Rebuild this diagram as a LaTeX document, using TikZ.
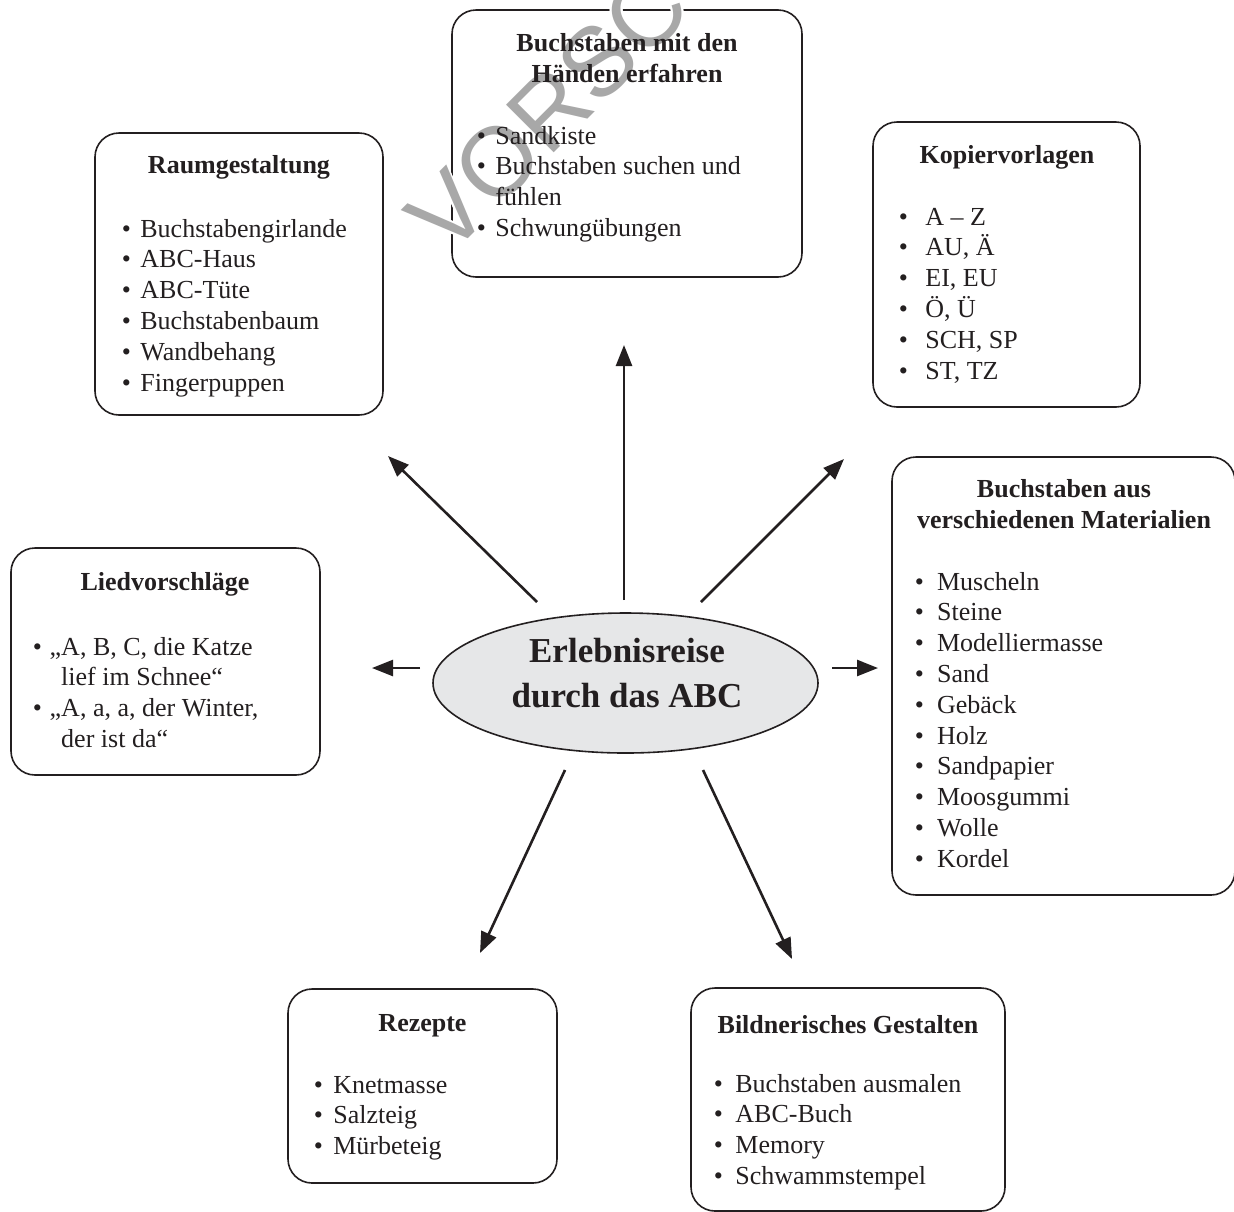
\documentclass[tikz,border=0pt]{standalone}
\usepackage{fontspec}
\setmainfont{Liberation Serif}
\newfontfamily\wmfont{Liberation Sans}
\usepackage{contour}
\contourlength{0.9pt}
\usetikzlibrary{shapes.geometric,fit,arrows.meta}
\definecolor{ink}{HTML}{231F20}
\definecolor{ellfill}{HTML}{E6E7E8}
\definecolor{wmgray}{HTML}{A8A8A8}
\newcommand{\mybul}[1]{\makebox[#1][l]{\textbullet}}
\begin{document}
\begin{tikzpicture}[x=0.5pt,y=-0.5pt,
  box/.style={draw=ink, line width=0.8pt, rounded corners=12pt, inner sep=0pt},
  ttl/.style={anchor=base, inner sep=0pt, text=ink, font=\fontsize{13}{15.5}\selectfont\bfseries},
  lst/.style={anchor=base west, inner sep=0pt, text=ink, font=\fontsize{13}{15.4}\selectfont},
  arr/.style={draw=ink, line width=1.3pt, -{Triangle[length=10.5pt,width=8pt]}}]
\useasboundingbox (0,0) rectangle (1234,1211);

% boxes
\node[box, fit={(452,10)(802,277)}] (hand) {};
\node[box, fit={(95,133)(383,415)}] (raum) {};
\node[box, fit={(873,122)(1140,407)}] (kopie) {};
\node[box, fit={(11,548)(320,775)}] (lied) {};
\node[box, fit={(892,457)(1235,895)}] (mat) {};
\node[box, fit={(288,989)(557,1183)}] (rez) {};
\node[box, fit={(691,988)(1005,1211)}] (bild) {};

% centre ellipse
\node[draw=ink, line width=0.8pt, fill=ellfill, ellipse, minimum width=192.5pt,
      minimum height=70pt, inner sep=0pt] (centre) at (625.5,683) {};

% watermark
\begin{scope}
\clip (0,0) rectangle (1234,1211);
\node[rotate=45, inner sep=0pt, font=\wmfont\fontsize{49}{49}\selectfont] (wm) at (548,112)
  {\color{wmgray}\contour{white}{VORSC}};
\end{scope}

% arrows
\coordinate (u0) at (624,600);  \coordinate (u1) at (624,345);
\coordinate (ul0) at (537,602); \coordinate (ul1) at (388,456);
\coordinate (ur0) at (701,602); \coordinate (ur1) at (844,459);
\coordinate (l0) at (420,668);  \coordinate (l1) at (372,668);
\coordinate (r0) at (832,668);  \coordinate (r1) at (878,668);
\coordinate (dl0) at (565,770); \coordinate (dl1) at (480,953);
\coordinate (dr0) at (703,770); \coordinate (dr1) at (792,959);
\draw[arr] (u0) -- (u1);
\draw[arr] (ul0) -- (ul1);
\draw[arr] (ur0) -- (ur1);
\draw[arr] (l0) -- (l1);
\draw[arr] (r0) -- (r1);
\draw[arr] (dl0) -- (dl1);
\draw[arr] (dr0) -- (dr1);

% centre text
\node[anchor=base, inner sep=0pt, text=ink, font=\fontsize{17.5}{22.5}\selectfont\bfseries] (ctext) at (627,662)
  {\begin{tabular}[t]{@{}c@{}}Erlebnisreise\\durch das ABC\end{tabular}};

% titles
\node[ttl] (hand-t) at (627,51) {\begin{tabular}[t]{@{}c@{}}Buchstaben mit den\\Händen erfahren\end{tabular}};
\node[ttl] (raum-t) at (239,173) {Raumgestaltung};
\node[ttl] (kopie-t) at (1007,163) {Kopiervorlagen};
\node[ttl] (lied-t) at (165,590) {Liedvorschläge};
\node[ttl] (mat-t) at (1064,497) {\begin{tabular}[t]{@{}c@{}}Buchstaben aus\\verschiedenen Materialien\end{tabular}};
\node[ttl] (rez-t) at (422.5,1031) {Rezepte};
\node[ttl] (bild-t) at (848,1033) {Bildnerisches Gestalten};

% lists
\node[lst] (hand-l) at (476.5,144) {\begin{tabular}[t]{@{}l@{}l@{}}
\mybul{9.25pt} & Sandkiste\\
\mybul{9.25pt} & Buchstaben suchen und\\
 & fühlen\\
\mybul{9.25pt} & Schwungübungen\end{tabular}};

\node[lst] (raum-l) at (121.5,237) {\begin{tabular}[t]{@{}l@{}l@{}}
\mybul{9.25pt} & Buchstabengirlande\\
\mybul{9.25pt} & ABC-Haus\\
\mybul{9.25pt} & ABC-Tüte\\
\mybul{9.25pt} & Buchstabenbaum\\
\mybul{9.25pt} & Wandbehang\\
\mybul{9.25pt} & Fingerpuppen\end{tabular}};

\node[lst] (kopie-l) at (898.5,225) {\begin{tabular}[t]{@{}l@{}l@{}}
\mybul{13.25pt} & A – Z\\
\mybul{13.25pt} & AU, Ä\\
\mybul{13.25pt} & EI, EU\\
\mybul{13.25pt} & Ö, Ü\\
\mybul{13.25pt} & SCH, SP\\
\mybul{13.25pt} & ST, TZ\end{tabular}};

\node[lst] (lied-l) at (32.5,655) {\begin{tabular}[t]{@{}l@{}l@{}}
\mybul{8.4pt} & „A, B, C, die Katze\\
 & \phantom{„}lief im Schnee“\\
\mybul{8.4pt} & „A, a, a, der Winter,\\
 & \phantom{„}der ist da“\end{tabular}};

\node[lst] (mat-l) at (914.5,590) {\begin{tabular}[t]{@{}l@{}l@{}}
\mybul{11.1pt} & Muscheln\\
\mybul{11.1pt} & Steine\\
\mybul{11.1pt} & Modelliermasse\\
\mybul{11.1pt} & Sand\\
\mybul{11.1pt} & Gebäck\\
\mybul{11.1pt} & Holz\\
\mybul{11.1pt} & Sandpapier\\
\mybul{11.1pt} & Moosgummi\\
\mybul{11.1pt} & Wolle\\
\mybul{11.1pt} & Kordel\end{tabular}};

\node[lst] (rez-l) at (313.5,1093) {\begin{tabular}[t]{@{}l@{}l@{}}
\mybul{9.75pt} & Knetmasse\\
\mybul{9.75pt} & Salzteig\\
\mybul{9.75pt} & Mürbeteig\end{tabular}};

\node[lst] (bild-l) at (713.5,1092) {\begin{tabular}[t]{@{}l@{}l@{}}
\mybul{10.75pt} & Buchstaben ausmalen\\
\mybul{10.75pt} & ABC-Buch\\
\mybul{10.75pt} & Memory\\
\mybul{10.75pt} & Schwammstempel\end{tabular}};
\end{tikzpicture}
\end{document}
